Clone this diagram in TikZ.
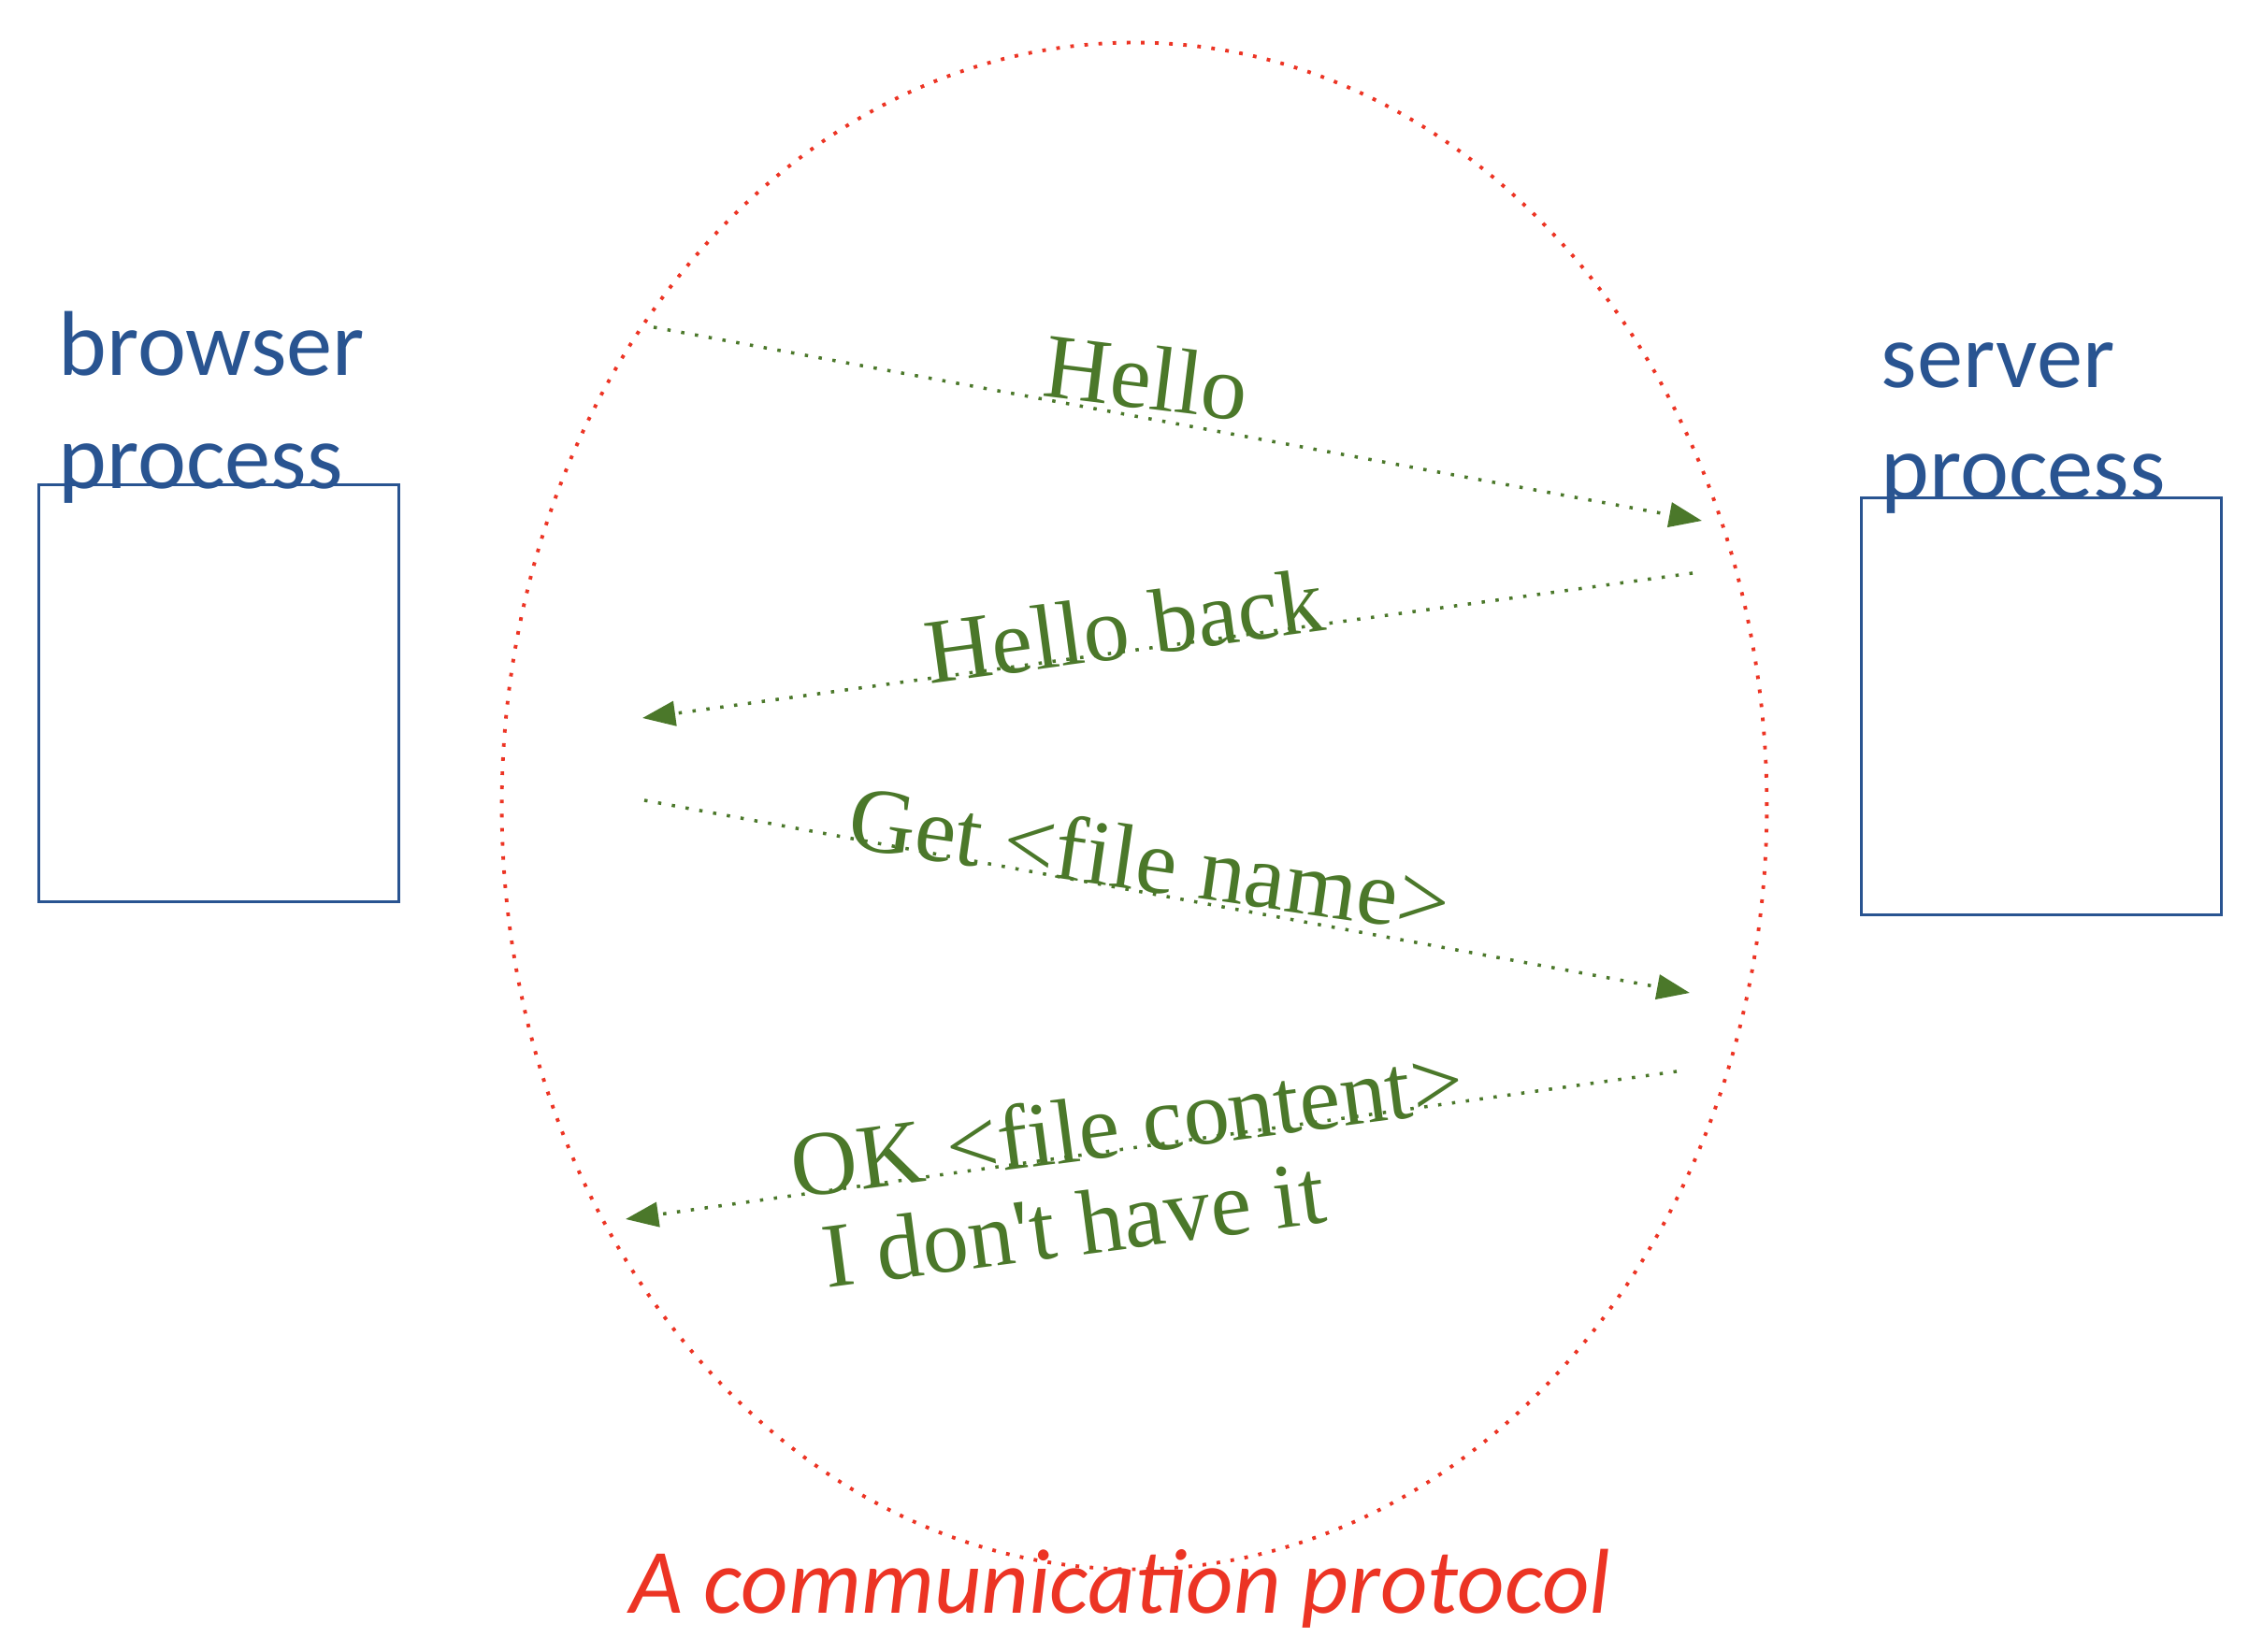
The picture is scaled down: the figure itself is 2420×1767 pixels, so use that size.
\documentclass[tikz,border=0pt]{standalone}
\usepackage{fontspec}
\setmainfont{Liberation Serif}
\newfontfamily\procfont{Carlito}
\usetikzlibrary{arrows.meta,positioning}

\definecolor{procblue}{RGB}{41,84,145}
\definecolor{msggreen}{RGB}{75,120,42}
\definecolor{protored}{RGB}{236,52,36}

\tikzset{
  procbox/.style={draw=procblue, line width=0.85pt, minimum width=3.84cm, minimum height=4.45cm, inner sep=0pt},
  proclabel/.style={text=procblue, font=\procfont\fontsize{28}{34}\selectfont, inner sep=0pt, anchor=base west},
  msgline/.style={draw=msggreen, line width=1pt, dash pattern=on 1pt off 3.25pt, ->},
  msgtext/.style={text=msggreen, font=\fontsize{28}{28}\selectfont, inner sep=0pt},
  protoring/.style={draw=protored, line width=1.1pt, dash pattern=on 1.1pt off 3.2pt},
}

\begin{document}
\begin{tikzpicture}[>={Triangle[length=10pt,width=7.5pt]}, x=0.01cm, y=-0.01cm]
    \useasboundingbox (0,0) rectangle (2420,1767);

    % Processes
    \node[procbox] (browser) at (234,741.5) {};
    \node[procbox] (server) at (2183,755.5) {};
    \node[proclabel] (browsername) at (62,402) {browser};
    \node[proclabel] (browserproc) at ([yshift=-1.2cm]browsername.base west) {process};
    \node[proclabel] (servername) at (2011,415) {server};
    \node[proclabel] (serverproc) at ([yshift=-1.18cm]servername.base west) {process};

    % Protocol
    \draw[protoring] (1213,862) ellipse [x radius=6.76cm, y radius=8.16cm];
    \node[text=protored, font=\procfont\itshape\fontsize{28}{34}\selectfont, inner sep=0pt, anchor=base] (protocol) at (1198,1725) {A communication protocol};

    % Message ends
    \coordinate (hello1) at (699,350);
    \coordinate (hello2) at (1820,557);
    \coordinate (back1) at (1810,613);
    \coordinate (back2) at (687,768);
    \coordinate (get1) at (689,856);
    \coordinate (get2) at (1807,1062);
    \coordinate (ok1) at (1793,1146);
    \coordinate (ok2) at (669,1304);

    % Messages
    \draw[msgline] (hello1) -- (hello2);
    \draw[msgline] (back1) -- (back2);
    \draw[msgline] (get1) -- (get2);
    \draw[msgline] (ok1) -- (ok2);

    % Labels
    \node[msgtext, anchor=base, rotate=-7] (hello) at (1222,437) {Hello};
    \node[msgtext, anchor=base, rotate=7.7] (helloback) at (1207,703) {Hello back};
    \node[msgtext, anchor=base, rotate=-8.2] (getfile) at (1225,953) {Get <file name>};
    \node[msgtext, anchor=base west, rotate=7.5] (okfile) at (850,1282) {OK <file content>};
    \node[msgtext, anchor=base west, rotate=7.5] (nofile) at ([shift={(34,96)}]okfile.base west) {I don\textquotesingle t have it};
\end{tikzpicture}
\end{document}
